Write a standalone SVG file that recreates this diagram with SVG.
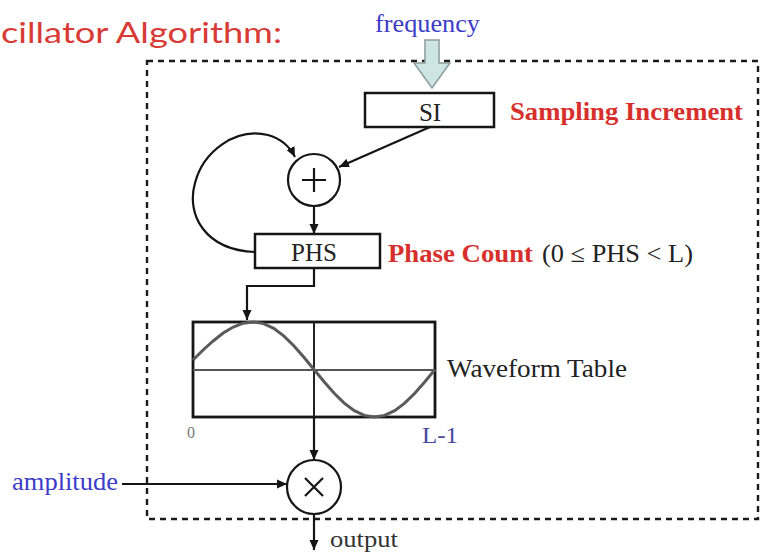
<svg xmlns="http://www.w3.org/2000/svg" width="762" height="553" viewBox="0 0 762 553">
<style>
.ser{font-family:"Liberation Serif","Times New Roman",serif;}
.box{fill:#fff;stroke:#151515;stroke-width:2.5;}
.ln{fill:none;stroke:#151515;stroke-width:2.2;}
.red{fill:#d7302c;font-weight:bold;}
.blue{fill:#3c3cc8;}
.dark{fill:#222;}
</style>
<defs>
<marker id="ah" markerUnits="userSpaceOnUse" markerWidth="10" markerHeight="10" refX="10" refY="5" orient="auto">
<path d="M0,0.5 L10,5 L0,9.5 z" fill="#151515"/>
</marker>
</defs>
<rect width="762" height="553" fill="#fff"/>
<g id="title">
<text x="1" y="43" font-family="Lato, 'Open Sans', sans-serif" font-size="28" fill="#d83a35" textLength="281" lengthAdjust="spacingAndGlyphs">cillator Algorithm:</text>
</g>
<g id="frame">
<rect x="147" y="61" width="611" height="458" fill="none" stroke="#1a1a1a" stroke-width="2.4" stroke-dasharray="6,5"/>
</g>
<g id="frequency">
<text class="ser blue" x="375" y="32" font-size="25" textLength="105" lengthAdjust="spacingAndGlyphs">frequency</text>
<polygon points="425,40 439,40 439,63 450,63 432,88 414,63 425,63" fill="#cde5e5" stroke="#8c9c9c" stroke-width="1.5"/>
</g>
<g id="si">
<rect class="box" x="365" y="93" width="129" height="34"/>
<text class="ser dark" x="430" y="121" font-size="25" text-anchor="middle">SI</text>
<text class="ser red" x="510" y="120" font-size="25" textLength="233" lengthAdjust="spacingAndGlyphs">Sampling Increment</text>
</g>
<g id="adder">
<circle cx="314" cy="180" r="26" fill="#fff" stroke="#151515" stroke-width="2.2"/>
<path d="M302,180 H326 M314,168 V192" stroke="#151515" stroke-width="2.2"/>
</g>
<g id="phs">
<rect class="box" x="255" y="234" width="125" height="34"/>
<text class="ser dark" x="314" y="261" font-size="25" text-anchor="middle">PHS</text>
<text class="ser red" x="388" y="262" font-size="25" textLength="145" lengthAdjust="spacingAndGlyphs">Phase Count</text>
<text class="ser dark" x="542" y="262" font-size="25" textLength="151" lengthAdjust="spacingAndGlyphs">(0 ≤ PHS &lt; L)</text>
</g>
<g id="table">
<rect x="193" y="322" width="242" height="95" fill="#fff" stroke="#151515" stroke-width="2.8"/>
<line x1="193" y1="370" x2="435" y2="370" stroke="#555" stroke-width="2.2"/>
<line x1="314" y1="322" x2="314" y2="417" stroke="#222" stroke-width="2"/>
<polyline fill="none" stroke="#5a5a5a" stroke-width="3" points="193,360 203.1,350 213.2,341 223.2,333 233.3,327 243.4,323.2 253.5,322 263.6,323.6 273.7,328.4 283.7,335.9 293.8,345.8 303.9,357.2 314,369.5 324.1,381.8 334.2,393.3 344.2,403.1 354.3,410.6 364.4,415.4 374.5,417 384.6,415.4 394.7,410.6 404.7,403.1 414.8,393.3 424.9,381.8 435,369.5"/>
<text class="ser dark" x="447" y="377" font-size="25" textLength="180" lengthAdjust="spacingAndGlyphs">Waveform Table</text>
<text class="ser" x="187" y="438" font-size="16" fill="#777">0</text>
<text class="ser" x="422" y="443" font-size="23" fill="#4a4a9c" textLength="36" lengthAdjust="spacingAndGlyphs">L-1</text>
</g>
<g id="multiplier">
<circle cx="314" cy="487" r="27" fill="#fff" stroke="#151515" stroke-width="2.2"/>
<path d="M305,478 L323,496 M323,478 L305,496" stroke="#151515" stroke-width="2.2"/>
</g>
<g id="amplitude">
<text class="ser blue" x="12" y="490" font-size="25" textLength="106" lengthAdjust="spacingAndGlyphs">amplitude</text>
</g>
<g id="output">
<text class="ser" x="330" y="547" font-size="23" fill="#333" textLength="68" lengthAdjust="spacingAndGlyphs">output</text>
</g>
<g id="connectors">
<path class="ln" d="M430,127 L339,167" marker-end="url(#ah)"/>
<path class="ln" d="M255,252 C205,250 186,215 195,183 C203,152 235,127 268,135 C282,139 290,147 295,157" marker-end="url(#ah)"/>
<path class="ln" d="M314,206 L314,234" marker-end="url(#ah)"/>
<path class="ln" d="M314,268 L314,286 L247,286 L247,320" marker-end="url(#ah)"/>
<path class="ln" d="M314,417 L314,460" marker-end="url(#ah)"/>
<path class="ln" d="M122,484 L287,484" marker-end="url(#ah)"/>
<path class="ln" d="M314,514 L314,550" marker-end="url(#ah)"/>
</g>
</svg>
